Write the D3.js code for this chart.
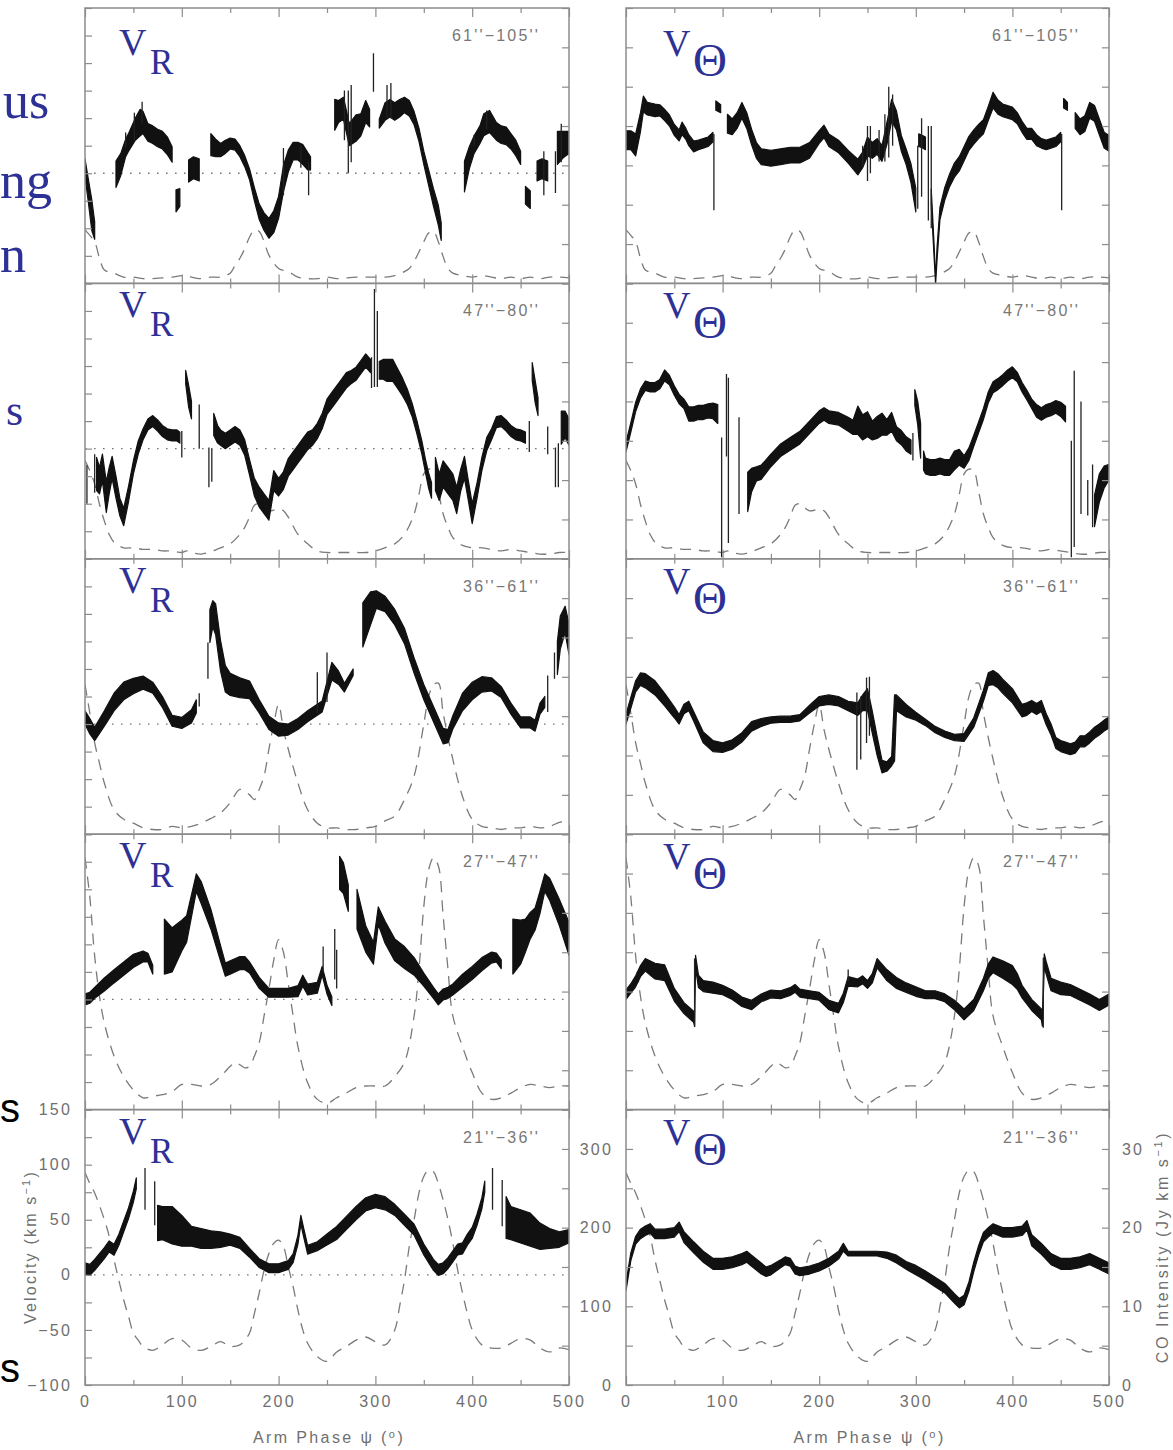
<!DOCTYPE html>
<html>
<head>
<meta charset="utf-8">
<script src="https://cdn.jsdelivr.net/npm/d3@7"></script>
<style>
  body { margin: 0; background: #fff; }
  svg { display: block; }
</style>
</head>
<body>
<svg id="chart" width="1173" height="1450"></svg>
<script>
// ---------------------------------------------------------------
// Arm-phase profiles of radial (V_R) and tangential (V_Θ) velocity
// in five radial rings, with the CO intensity profile (dashed).
// Velocity bands: segments of [psi, v, halfWidth]; spikes: [psi, lo, hi].
// CO profiles: [psi, intensity].
// ---------------------------------------------------------------

const RINGS = ["61''\u2212105''", "47''\u221280''", "36''\u221261''", "27''\u221247''", "21''\u221236''"];
const PSI_TICKS = [0, 100, 200, 300, 400, 500];
const VR_TICKS = [-100, -50, 0, 50, 100, 150];
const VT_TICKS = [0, 100, 200, 300];
const CO_TICKS = [0, 10, 20, 30];

// ---- ring 61''-105'' ----
const vr61 = [
  [[0,5,8],[3,-13,10],[7,-38,14],[10,-52,8]],
  [[32,-1,12],[37,8,10],[42,23,8],[45,28,8],[52,40,10],[57,46,12],[60,46,10],[65,37,8],[70,35,8],[75,32,8],[80,30,8],[85,25,8],[90,17,7]],
  [[94,-25,10],[98,-22,8]],
  [[107,2,10],[112,5,10],[118,3,10]],
  [[130,26,10],[135,23,8],[140,21,6],[145,24,6],[150,27,5],[155,26,5],[160,20,5],[165,11,5],[170,-1,5],[175,-19,6],[180,-35,7],[185,-44,8],[190,-50,9],[195,-44,10],[200,-31,10],[205,-5,12],[210,11,10],[215,20,8],[220,20,8],[225,17,9],[230,11,8],[233,9,6]],
  [[258,53,14],[262,56,10],[267,59,10],[273,35,10],[280,41,12],[285,44,10],[290,56,10],[294,50,8]],
  [[304,45,4],[310,56,8],[315,59,8],[320,56,8],[325,59,8],[330,62,7],[335,59,7],[340,50,6],[345,35,6],[350,14,6],[355,-4,7],[360,-22,8],[365,-38,9],[368,-53,8]],
  [[392,-3,14],[397,14,10],[402,26,8],[408,35,8],[412,44,10],[418,47,10],[425,38,8],[430,35,8],[435,34,8],[440,29,7],[445,23,7],[450,14,6]],
  [[455,-20,8],[460,-24,8]],
  [[467,2,9],[472,4,9],[478,2,9]],
  [[488,23,15],[494,26,12],[500,28,10]]
];
const vrSpikes61 = [[42,23,37],[51,30,55],[59,45,65],[205,-20,23],[223,5,25],[231,-20,10],[268,30,75],[272,0,75],[275,10,80],[298,74,109],[312,50,80],[316,50,82],[402,25,35],[415,40,57],[474,-20,20],[486,-18,20],[492,10,45]];
const vt61 = [
  [[0,182,12],[5,182,12],[10,176,14],[15,205,12],[18,228,10],[22,222,8],[30,220,8],[35,220,7],[40,214,7],[45,207,7],[50,195,7],[55,188,7],[58,197,8],[62,190,7],[65,182,7],[70,174,7],[75,176,6],[80,178,6],[85,180,6],[90,186,6]],
  [[93,226,6],[98,222,5]],
  [[105,203,12],[110,199,10],[115,207,10],[120,220,10],[125,207,10],[130,186,10],[135,169,10],[140,161,10],[150,159,10],[160,161,10],[170,163,10],[180,163,10],[190,169,10],[200,186,8],[205,193,8],[210,182,8],[220,174,8],[230,161,8],[240,148,10],[245,157,10],[250,174,12],[255,169,10],[260,174,10],[265,165,10],[270,190,14],[275,220,14],[280,207,12],[285,178,10],[290,161,10],[295,140,12],[300,106,15]],
  [[303,182,8],[307,180,8],[310,178,8]],
  [[316,110,10],[319,40,8],[320.5,2,3],[322,38,8],[325,89,8],[330,114,8],[335,131,8],[340,144,9],[345,152,9],[350,165,9],[355,178,9],[360,186,9],[365,193,9],[370,199,9],[375,216,9],[380,233,10],[385,224,9],[390,220,8],[400,216,8],[405,210,7],[410,199,7],[415,190,7],[420,190,7],[425,182,7],[430,178,6],[435,176,6],[440,178,6],[445,180,6],[450,186,6]],
  [[453,229,6],[457,225,5]],
  [[465,207,10],[470,199,10],[475,203,10],[480,220,10],[485,216,10],[490,199,10],[495,182,10],[500,178,10]]
];
const vtSpikes61 = [[91,93,190],[245,148,175],[250,130,200],[253,140,200],[262,155,195],[268,155,215],[272,160,250],[276,175,240],[302,95,175],[306,110,210],[313,80,200],[316,70,200],[451,93,190]];
const co61 = [[0,6.8],[5,6.1],[10,5.3],[15,3.2],[20,1.7],[30,1.3],[40,0.8],[50,0.8],[60,0.6],[70,0.6],[80,0.7],[90,0.8],[100,1],[105,1],[110,0.8],[120,0.6],[130,0.8],[140,0.8],[150,1.3],[155,2.3],[160,3.2],[165,4.4],[170,5.9],[175,6.8],[180,6.6],[185,5.3],[190,3.6],[200,1.9],[210,1.5],[220,0.8],[230,0.6],[240,0.6],[250,0.8],[260,0.6],[270,0.7],[280,0.8],[290,0.8],[300,0.8],[310,0.8],[320,1],[330,1.5],[335,1.9],[340,2.8],[345,4],[350,5.3],[355,6.4],[360,6.6],[365,5.3],[370,3.4],[375,1.9],[380,1.3],[390,1],[400,0.8],[410,1],[420,0.8],[430,0.6],[440,0.8],[450,0.6],[460,0.8],[470,0.6],[480,0.8],[490,0.8],[500,0.7]];

// ---- ring 47''-80'' ----
const vr47 = [
  [[12,-23,15],[15,-29,12],[18,-17,12],[22,-44,14],[25,-29,12],[28,-17,10],[32,-35,10],[36,-53,8],[40,-62,8],[45,-41,7],[50,-17,6],[55,1,6],[60,13,5],[65,22,5],[70,25,5],[75,21,5],[80,16,5],[85,13,5],[90,12,5],[95,12,5],[98,10,5]],
  [[104,65,6],[107,48,10],[110,35,8]],
  [[133,22,10],[137,13,8],[140,10,7],[145,7,7],[150,10,7],[155,13,7],[160,10,7],[165,1,7],[170,-17,7],[175,-35,8],[180,-44,9],[185,-50,9],[190,-56,9],[195,-29,9],[200,-35,8],[205,-29,8],[210,-17,8],[215,-11,8],[220,-5,8],[225,1,8],[230,7,8],[235,10,7],[240,16,7],[245,25,7],[250,38,7],[255,44,7],[260,50,7],[265,56,7],[270,62,7],[275,65,6],[280,68,6],[285,74,6],[290,80,6],[295,75,6]],
  [[304,71,8],[308,72,9],[312,71,10],[318,71,10],[322,65,9],[328,56,8],[333,47,7],[338,35,6],[343,19,6],[348,1,6],[352,-17,6],[355,-29,7],[358,-38,7]],
  [[362,-23,15],[366,-35,12],[370,-23,12],[375,-29,12],[380,-35,12],[384,-47,12],[388,-29,10],[392,-17,10],[396,-38,9],[400,-59,9],[405,-38,7],[410,-14,6],[415,4,6],[420,13,5],[425,24,5],[430,25,5],[435,21,5],[440,16,5],[445,13,5],[450,12,5],[455,10,5]],
  [[462,70,8],[465,52,10],[468,38,8]],
  [[492,19,15],[496,22,12],[500,15,12]]
];
const vrSpikes47 = [[2,-50,-15],[10,-40,-5],[100,-8,16],[118,0,40],[128,-35,1],[131,-30,0],[296,55,83],[299,56,145],[302,56,125],[459,-3,25],[478,-5,20],[486,-35,1],[489,-35,5]];
const vt47 = [
  [[0,142,6],[5,167,6],[10,193,6],[15,210,6],[20,220,6],[25,218,6],[30,218,6],[35,222,6],[40,233,7],[45,227,6],[50,214,6],[55,203,6],[60,197,6],[65,184,9],[70,184,9],[75,186,9],[80,186,9],[85,188,9],[90,188,10],[95,184,12]],
  [[126,85,25],[130,100,15],[135,108,9],[140,110,9],[150,125,8],[160,138,8],[170,146,8],[180,154,8],[190,167,8],[200,180,8],[205,184,8],[210,180,8],[220,178,8],[230,171,9],[235,167,9],[240,176,18],[245,167,16],[250,171,16],[255,163,12],[260,167,14],[265,171,14],[270,167,10],[275,174,12],[280,159,9],[285,154,9],[290,146,9],[295,142,9]],
  [[299,205,10],[302,185,15],[305,150,22]],
  [[308,125,12],[310,118,10],[315,116,10],[320,116,10],[325,118,10],[330,116,10],[335,116,10],[340,125,12],[345,129,10],[350,123,8],[355,133,8],[360,150,7],[365,167,7],[370,184,7],[375,205,7],[380,218,7],[385,222,7],[390,227,7],[395,233,7],[400,237,7],[405,231,6],[410,218,6],[415,208,6],[420,197,6],[425,188,8],[430,184,8],[435,188,8],[440,190,8],[445,193,8],[450,190,9],[455,184,10]],
  [[485,61,20],[490,90,18],[495,104,14],[500,110,10]]
];
const vtSpikes47 = [[99,2,154],[104,130,235],[106,20,230],[117,57,180],[297,125,160],[461,2,150],[464,15,239],[471,57,200],[478,55,100],[483,40,120]];
const co47 = [[0,12.5],[5,11.2],[10,9.5],[15,6.9],[20,4.8],[25,3.1],[30,2.1],[40,1.4],[50,1.4],[60,1.2],[70,1.2],[80,1],[90,1],[100,0.8],[105,1],[110,0.8],[120,0.6],[130,0.9],[140,1.4],[150,1.9],[160,3.1],[165,4],[170,5.3],[175,6.8],[180,7],[185,6.5],[190,6.1],[200,6.3],[205,6.1],[210,5.3],[220,3.1],[230,1.9],[240,1],[250,0.8],[260,0.8],[270,0.8],[280,0.8],[290,0.8],[300,1],[310,1.4],[320,1.9],[330,3.1],[340,5.7],[345,8.2],[350,10.8],[355,11.4],[360,11.2],[365,8.6],[370,5.7],[375,4],[380,2.7],[390,1.7],[400,1.4],[410,1.4],[420,1.2],[430,1],[440,1.2],[450,1],[460,0.8],[470,0.6],[480,0.6],[490,0.8],[500,0.8]];

// ---- ring 36''-61'' ----
const vr36 = [
  [[0,6,6],[5,-2,7],[10,-9,6],[20,5,7],[30,20,8],[40,30,8],[50,34.5,7],[60,37.6,6],[70,33,5],[80,20,5],[90,3,5],[100,1,5],[110,7,6],[115,16,6]],
  [[129,89,15],[132,100,12],[135,95,14],[140,62,14],[145,41,12],[150,36,10],[160,33,9],[170,31,8],[180,16,6],[190,1,6],[200,-5,6],[210,-5,5],[220,0,5],[230,7,5],[240,13,5],[245,16,5],[255,48,8],[262,42,6],[268,33,4],[277,47,3]],
  [[287,90,20],[295,105,15],[301,113,8],[310,109,7],[320,97,7],[330,80,7],[340,53,7],[350,29,7],[360,9,7],[370,-11,7],[375,-11,6],[380,1.5,6],[390,20,8],[400,30,8],[410,36,7],[420,36,6],[430,29,5],[440,14,5],[450,1.5,5],[460,1.5,5],[465,-1.5,5],[470,14,5],[475,20,5]],
  [[488,60,15],[491,83,15],[496,95,12],[500,77,14]]
];
const vrSpikes36 = [[118,16,28],[127,41,74],[240,10,47],[250,20,65],[478,11,44],[485,41,65]];
const vt36 = [
  [[0,146,6],[5,167,7],[10,188,7],[15,197,8],[20,195,9],[30,186,9],[40,171,8],[50,155,7],[55,146,6],[60,159,6],[65,163,6],[70,150,6],[80,123,7],[90,112,7],[100,110,6],[110,114,6],[120,123,6],[130,137,6],[140,142,5],[150,145,4],[160,146,4],[170,146,4],[180,148,4],[190,159,5],[200,169,6],[210,171,6],[220,169,6],[230,163,6],[240,159,8],[245,167,10],[250,171,14],[255,142,14],[260,112,12],[265,86,8],[270,86,6],[275,93,6],[278,135,42],[280,167,10],[290,157,8],[300,150,5],[310,142,4],[320,133,4],[330,127,4],[340,123,4],[350,123,5],[360,142,6],[370,176,7],[375,197,8],[380,199,9],[385,195,9],[390,188,9],[400,176,9],[410,157,8],[415,159,8],[420,163,7],[425,159,7],[430,163,7],[435,146,7],[440,133,7],[445,116,7],[450,112,7],[455,110,7],[460,108,7],[465,110,7],[470,118,7],[475,118,7],[480,123,7],[485,129,7],[490,133,7],[495,138,7],[500,142,7]]
];
const vtSpikes36 = [[239,82,180],[243,95,175],[249,116,199],[252,125,200]];
const co36 = [[0,19],[5,15.4],[10,11.6],[15,9],[20,6.5],[30,3.1],[40,1.9],[50,1.4],[60,0.8],[70,0.6],[80,0.6],[90,1],[100,0.8],[110,1],[120,1.4],[130,2],[140,2.7],[150,4],[160,5.7],[170,5],[175,4.4],[180,5.7],[185,7.4],[190,10.8],[195,14],[200,16.5],[205,13.3],[210,10.8],[220,6.5],[230,3.1],[240,1.4],[250,0.8],[260,0.8],[270,0.6],[280,0.6],[290,0.8],[300,1],[310,1.7],[320,2.3],[330,4.4],[340,7.4],[350,14],[355,17.5],[360,19],[365,19.2],[370,15.4],[380,9.5],[390,4.8],[400,1.9],[410,1],[420,0.8],[430,0.6],[440,0.8],[450,0.8],[460,1],[470,0.8],[480,1],[490,1.5],[500,1.8]];

// ---- ring 27''-47'' ----
const vr27 = [
  [[0,0,5],[5,1.5,5],[10,6,5],[20,13.6,6],[30,21,6],[40,28,6],[50,35,6],[60,39,5],[65,38,4],[70,27,4]],
  [[82,48,25],[90,45,20],[100,58,14],[105,64,12],[110,85,10],[115,106,8],[120,97,10],[130,73,9],[140,42,7],[145,27,6],[150,29,6],[160,33,6],[165,33,6],[170,29,5],[180,15,5],[190,6,4],[200,6,4],[210,6,4],[220,7.5,5],[225,17,5],[230,9,5],[240,10.6,5],[245,26,4],[250,9,4],[255,-1.5,4]],
  [[263,115,15],[267,110,14],[272,92,12]],
  [[281,82,18],[290,55,12],[298,42,10],[303,76,8],[310,61,10],[320,45,10],[330,38,10],[340,30,8],[350,18,6],[360,6,5],[365,0,5],[370,4.5,5],[375,6,5],[380,9,5],[390,17,6],[400,24,6],[410,32,6],[420,38,5],[425,38,4],[430,32,4]],
  [[442,48,25],[450,52,20],[455,58,15],[460,67,12],[465,73,10],[470,88,10],[475,106,8],[480,100,10],[490,79,12],[500,55,15]]
];
const vrSpikes27 = [[246,24,48],[258,18,64],[260,10,45]];
const vt27 = [
  [[0,146,6],[5,154,6],[10,163,7],[15,176,7],[20,184,8],[30,176,10],[40,174,10],[50,146,8],[60,129,7],[70,118,7],[71,112,6],[72,188,8],[75,163,8],[80,157,7],[90,155,7],[100,152,6],[110,146,6],[120,137,6],[130,133,6],[140,142,5],[150,147,5],[160,146,5],[170,150,5],[175,154,5],[180,148,5],[190,146,5],[200,144,5],[210,133,6],[220,129,6],[225,142,6],[230,163,6],[240,161,5],[245,165,5],[250,159,5],[255,167,6],[260,186,6],[270,171,7],[280,161,7],[290,155,6],[300,150,6],[310,146,5],[320,146,5],[330,142,5],[340,133,6],[350,121,7],[360,133,7],[370,159,8],[375,176,9],[380,184,10],[390,178,11],[400,171,12],[405,163,10],[410,150,8],[420,133,7],[430,121,7],[431,112,6],[433,190,8],[435,180,8],[440,159,8],[450,154,8],[460,152,7],[470,146,7],[480,140,7],[490,133,7],[500,140,7]]
];
const vtSpikes27 = [[71,105,192],[432,104,193],[230,163,178]];
const co27 = [[0,32],[5,27],[10,19.5],[15,14.4],[20,11],[30,6.8],[40,4.2],[50,2.5],[60,1.5],[70,1.7],[80,1.9],[90,2.3],[100,3.2],[110,3.2],[120,3],[130,3.2],[140,4.2],[150,5.5],[155,6],[160,5.7],[165,5.3],[170,5.5],[175,6.8],[180,8.5],[185,11.9],[190,15.3],[195,19],[200,21.6],[205,20],[210,16],[215,11.9],[220,8],[230,3.4],[240,1.3],[250,0.8],[260,1.5],[270,2.1],[280,2.8],[290,3],[300,3],[310,3],[320,4.2],[330,6],[340,11.9],[345,17.8],[350,25.8],[355,30.5],[360,32],[365,31],[370,24.6],[375,17.8],[380,11.9],[390,8],[400,4.7],[410,2.1],[420,1.3],[430,1.5],[440,2.1],[450,2.8],[460,3.2],[470,3],[480,2.8],[490,3],[500,3]];

// ---- ring 21''-36'' ----
const vr21 = [
  [[0,6,5],[5,4.5,5],[10,9,5],[20,19.7,5],[25,25.8,5],[30,22.7,5],[35,31.8,5],[40,44,5],[45,56,5],[50,71,5],[53,83,5]],
  [[75,47,16],[80,47,15],[90,45,17],[100,40,14],[110,35,9],[120,33,9],[130,32,8],[140,32,7],[150,32,5],[160,29,5],[170,20,4],[180,10.6,4],[190,6,4],[200,6,4],[210,9,4],[215,15,4],[220,32,4],[223,50,4],[226,38,4],[230,22.7,4],[240,26,4],[250,32,5],[260,38,6],[270,47,6],[280,56,6],[290,64,6],[300,67,6],[310,65,6],[320,59,5],[330,50,5],[340,41,5],[350,23,5],[360,9,5],[365,4.5,5],[370,6,5],[375,10.6,5],[380,16.7,5],[385,23,5],[390,24,5],[395,32,5],[400,38,5],[405,50,5],[410,65,5],[413,80,5]],
  [[435,52,19],[440,47,15],[450,44,15],[460,41,15],[470,35,12],[480,33,9],[490,32,7],[500,35,6]]
];
const vrSpikes21 = [[62,59,97],[72,45,85],[421,59,97],[431,44,86]];
const vt21 = [
  [[0,125,5],[5,163,5],[10,184,5],[15,192,6],[20,196,6],[25,199,6],[30,192,6],[40,192,6],[50,194,6],[55,201,6],[60,188,7],[70,175,7],[80,163,7],[90,154,7],[100,154,7],[110,156,7],[120,160,7],[125,163,7],[130,158,7],[140,148,7],[145,144,6],[150,146,6],[160,154,5],[165,158,5],[170,156,5],[175,146,5],[180,144,5],[190,146,5],[200,150,5],[210,156,5],[220,165,5],[225,175,5],[230,167,3],[240,167,3],[250,167,3],[260,167,3],[270,165,4],[280,160,5],[290,152,5],[300,146,6],[310,139,6],[320,131,6],[330,123,6],[340,110,6],[345,104,6],[350,108,6],[355,125,6],[360,150,6],[365,171,6],[370,188,6],[375,194,6],[380,199,6],[390,194,6],[400,194,6],[410,196,6],[415,203,6],[420,184,7],[430,173,7],[440,160,7],[450,154,7],[460,154,7],[470,156,7],[480,160,7],[490,154,7],[500,148,7]]
];
const vtSpikes21 = [];
const co21 = [[0,27],[5,25.6],[10,24.4],[20,21],[25,18.9],[30,15.9],[35,13.3],[40,10.8],[45,8.7],[50,6.6],[55,5.7],[60,4.9],[70,4.4],[80,5.1],[90,5.9],[100,5.7],[110,4.7],[120,4.4],[130,4.9],[140,5.5],[150,4.9],[160,5.1],[165,5.7],[170,6.6],[175,9.1],[180,11.7],[185,14.6],[190,16.7],[195,18],[200,18.4],[205,17.6],[210,15],[215,12.5],[220,9.5],[225,7],[230,5.3],[240,3.6],[250,3],[260,4.2],[270,4.9],[280,5.7],[290,6.1],[300,5.5],[310,5.1],[320,7],[325,10],[330,13.3],[335,17.6],[340,21],[345,24.4],[350,26.5],[355,27.3],[360,27.1],[365,25.6],[370,23.5],[375,21],[380,18],[385,14.6],[390,11.7],[395,9.1],[400,7],[410,5.1],[420,4.7],[430,4.7],[440,5.3],[450,5.9],[460,5.7],[470,4.7],[480,4.2],[490,4.7],[500,4.5]];

// ---------------------------------------------------------------
const rows = [
  { ring: RINGS[0], vr: vr61, vrSpk: vrSpikes61, vt: vt61, vtSpk: vtSpikes61, co: co61, lab: 13 },
  { ring: RINGS[1], vr: vr47, vrSpk: vrSpikes47, vt: vt47, vtSpk: vtSpikes47, co: co47, lab: 0 },
  { ring: RINGS[2], vr: vr36, vrSpk: vrSpikes36, vt: vt36, vtSpk: vtSpikes36, co: co36, lab: 0 },
  { ring: RINGS[3], vr: vr27, vrSpk: vrSpikes27, vt: vt27, vtSpk: vtSpikes27, co: co27, lab: 0 },
  { ring: RINGS[4], vr: vr21, vrSpk: vrSpikes21, vt: vt21, vtSpk: vtSpikes21, co: co21, lab: 0 }
];

const COLS = [[85, 569], [626, 1109]];
const TOP = 8, ROW_H = 275.4;
const GRAY = "#8c8c8c", LABEL = "#6f6f6f", BLUE = "#2d3094", INK = "#111";
const SANS = "'Liberation Sans', Arial, Helvetica, sans-serif";
const SERIF = "'Liberation Serif', 'Times New Roman', serif";

const svg = d3.select("#chart");
svg.append("rect").attr("width", 1173).attr("height", 1450).attr("fill", "#fff");

function styleAxis(g) {
  g.select(".domain").remove();
  g.selectAll(".tick line").attr("stroke", GRAY).attr("stroke-width", 1.2);
  g.selectAll(".tick text")
    .attr("fill", LABEL)
    .attr("font-family", SANS)
    .attr("font-size", 16)
    .attr("letter-spacing", 2.2);
}

// shorter ticks for the intermediate values
function minorTicks(g, isMajor, len) {
  g.selectAll(".tick").each(function (d) {
    if (!isMajor(d)) {
      const ln = d3.select(this).select("line");
      ["x2", "y2"].forEach(k => {
        const v = +ln.attr(k);
        if (v) ln.attr(k, Math.sign(v) * len);
      });
    }
  });
}

rows.forEach((row, r) => {
  const y0 = TOP + r * ROW_H, y1 = y0 + ROW_H;
  const last = r === rows.length - 1;

  [0, 1].forEach(c => {
    const [x0, x1] = COLS[c];
    const x = d3.scaleLinear().domain([0, 500]).range([x0, x1]);
    const yV = c === 0
      ? d3.scaleLinear().domain([-100, 150]).range([y1, y0])
      : d3.scaleLinear().domain([0, 350]).range([y1, y0]);
    const yCO = d3.scaleLinear().domain([0, 35]).range([y1, y0]);
    const segs = c === 0 ? row.vr : row.vt;
    const spikes = c === 0 ? row.vrSpk : row.vtSpk;

    const g = svg.append("g");
    const clipId = `clip-${r}-${c}`;
    g.append("clipPath").attr("id", clipId)
      .append("rect").attr("x", x0).attr("y", y0).attr("width", x1 - x0).attr("height", y1 - y0);
    const plot = g.append("g").attr("clip-path", `url(#${clipId})`);

    // zero reference for radial velocity
    if (c === 0) {
      plot.append("line")
        .attr("x1", x0).attr("x2", x1)
        .attr("y1", yV(0)).attr("y2", yV(0))
        .attr("stroke", "#777").attr("stroke-width", 1.3)
        .attr("stroke-dasharray", "1.6,7.4");
    }

    // CO intensity profile
    plot.append("path")
      .datum(row.co)
      .attr("d", d3.line().x(d => x(d[0])).y(d => yCO(d[1])).curve(d3.curveCatmullRom.alpha(0.5)))
      .attr("fill", "none")
      .attr("stroke", "#7a7a7a")
      .attr("stroke-width", 1.3)
      .attr("stroke-dasharray", "11,8");

    // velocity bands
    const band = d3.area()
      .x(d => x(d[0]))
      .y0(d => yV(d[1] - d[2]))
      .y1(d => yV(d[1] + d[2]));
    plot.selectAll("path.band").data(segs).join("path")
      .attr("class", "band")
      .attr("d", band)
      .attr("fill", INK)
      .attr("stroke", INK)
      .attr("stroke-width", 1.2)
      .attr("stroke-linejoin", "round");

    // error spikes
    plot.selectAll("line.spike").data(spikes).join("line")
      .attr("class", "spike")
      .attr("x1", d => x(d[0])).attr("x2", d => x(d[0]))
      .attr("y1", d => yV(d[1])).attr("y2", d => yV(d[2]))
      .attr("stroke", "#222").attr("stroke-width", 1.3);

    // axes (ticks point inward)
    const psiMinor = d3.range(0, 501, 50);
    const psiMajor = d => d % 100 === 0;
    g.append("g").attr("transform", `translate(0,${y1})`)
      .call(d3.axisBottom(x).tickValues(psiMinor).tickSizeInner(-9).tickSizeOuter(0).tickPadding(11)
        .tickFormat(d => (last && PSI_TICKS.includes(d)) ? d : ""))
      .call(styleAxis)
      .call(gg => minorTicks(gg, psiMajor, 5));
    g.append("g").attr("transform", `translate(0,${y0})`)
      .call(d3.axisTop(x).tickValues(psiMinor).tickSizeInner(-9).tickSizeOuter(0).tickFormat(""))
      .call(styleAxis)
      .call(gg => minorTicks(gg, psiMajor, 5));

    const vTicks = c === 0 ? d3.range(-100, 151, 25) : d3.range(0, 351, 50);
    const vLabels = c === 0 ? VR_TICKS : VT_TICKS;
    g.append("g").attr("transform", `translate(${x0},0)`)
      .call(d3.axisLeft(yV).tickValues(vTicks).tickSizeInner(-7).tickSizeOuter(0).tickPadding(13)
        .tickFormat(d => (last && vLabels.includes(d)) ? d3.format("d")(d).replace("-", "\u2212") : ""))
      .call(styleAxis);
    g.append("g").attr("transform", `translate(${x1},0)`)
      .call(d3.axisRight(yCO).tickValues(d3.range(0, 36, 5)).tickSizeInner(-7).tickSizeOuter(0).tickPadding(13)
        .tickFormat(d => (last && c === 1 && CO_TICKS.includes(d)) ? d : ""))
      .call(styleAxis);

    // frame
    g.append("rect")
      .attr("x", x0).attr("y", y0).attr("width", x1 - x0).attr("height", y1 - y0)
      .attr("fill", "none").attr("stroke", GRAY).attr("stroke-width", 1.5);

    // ring annotation
    g.append("text")
      .attr("x", x1 - 29).attr("y", y0 + 33)
      .attr("text-anchor", "end")
      .attr("font-family", SANS).attr("font-size", 16).attr("letter-spacing", 2.2)
      .attr("fill", "#777")
      .text(row.ring);

    // component label
    const lab = g.append("text")
      .attr("font-family", SERIF).attr("fill", BLUE);
    if (c === 0) {
      lab.append("tspan").attr("x", x0 + 34).attr("y", y0 + 34 + row.lab)
        .attr("font-size", 38).text("V");
      lab.append("tspan").attr("x", x0 + 65).attr("y", y0 + 53 + row.lab)
        .attr("font-size", 35).text("R");
    } else {
      lab.append("tspan").attr("x", x0 + 37).attr("y", y0 + 35 + row.lab)
        .attr("font-size", 38).text("V");
      lab.append("tspan").attr("x", x0 + 67).attr("y", y0 + 55 + row.lab)
        .attr("font-size", 47).text("\u0398");
    }
  });
});

// axis titles
const bottomY = TOP + 5 * ROW_H;
[0, 1].forEach(c => {
  const [x0, x1] = COLS[c];
  const t = svg.append("text")
    .attr("x", (x0 + x1) / 2 + 2).attr("y", bottomY + 58)
    .attr("text-anchor", "middle")
    .attr("font-family", SANS).attr("font-size", 16).attr("letter-spacing", 2.4)
    .attr("fill", LABEL);
  t.append("tspan").text("Arm Phase \u03C8 (");
  t.append("tspan").attr("font-size", 11).attr("dy", -5).text("o");
  t.append("tspan").attr("dy", 5).text(")");
});

const vTitle = svg.append("text")
  .attr("transform", `translate(36,${bottomY - 138}) rotate(-90)`)
  .attr("text-anchor", "middle")
  .attr("font-family", SANS).attr("font-size", 16).attr("letter-spacing", 2.2)
  .attr("fill", LABEL);
vTitle.append("tspan").text("Velocity (km s");
vTitle.append("tspan").attr("font-size", 11).attr("dy", -6).text("\u22121");
vTitle.append("tspan").attr("dy", 6).text(")");

const coTitle = svg.append("text")
  .attr("transform", `translate(1168,${bottomY - 138}) rotate(-90)`)
  .attr("text-anchor", "middle")
  .attr("font-family", SANS).attr("font-size", 16).attr("letter-spacing", 2.6)
  .attr("fill", LABEL);
coTitle.append("tspan").text("CO Intensity (Jy km s");
coTitle.append("tspan").attr("font-size", 11).attr("dy", -6).text("\u22121");
coTitle.append("tspan").attr("dy", 6).text(")");

// words running in from the left margin
const margin = svg.append("g");
[["us", 3, 118], ["ng", 0, 198], ["n", 0, 272]].forEach(([s, xx, yy]) => {
  margin.append("text").attr("x", xx).attr("y", yy)
    .attr("font-family", SERIF).attr("font-size", 52).attr("fill", BLUE).text(s);
});
margin.append("text").attr("x", 6).attr("y", 425)
  .attr("font-family", SERIF).attr("font-size", 44).attr("fill", BLUE).text("s");
[1122, 1382].forEach(yy => {
  margin.append("text").attr("x", 0).attr("y", yy)
    .attr("font-family", SANS).attr("font-size", 40).attr("fill", "#000").text("s");
});
</script>
</body>
</html>
